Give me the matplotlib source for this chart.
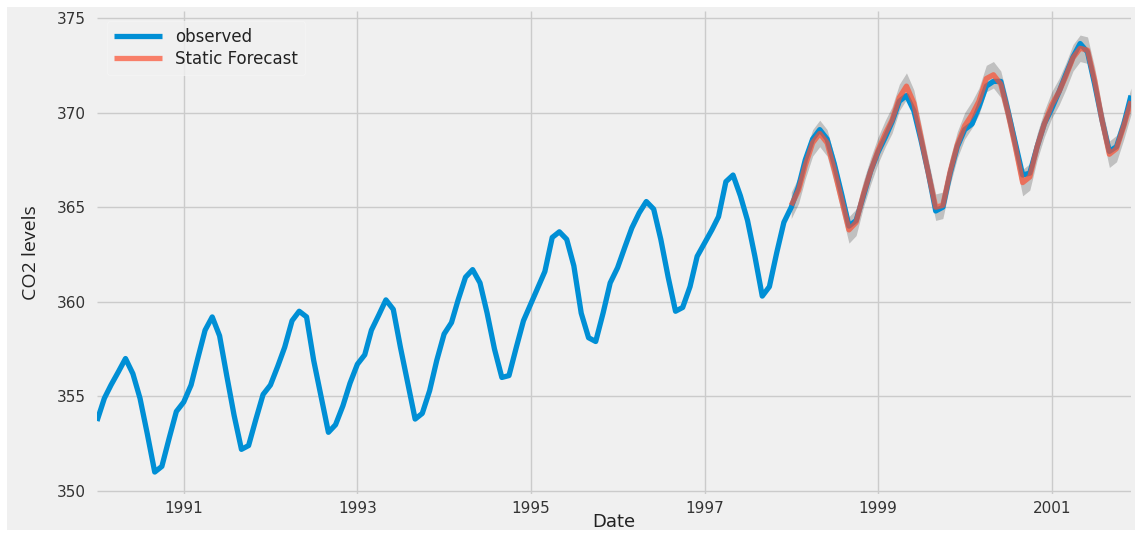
import matplotlib
matplotlib.use("Agg")
import matplotlib.pyplot as plt
import matplotlib.dates as mdates
from matplotlib.patches import Rectangle
import pandas as pd
import numpy as np

plt.style.use("fivethirtyeight")

# ---------------- data ----------------
start_month = "1990-01-01"
forecast_start = "1998-01-01"

observed = [
    # 1990
    353.7, 354.9, 355.6, 356.3, 357.0, 356.2, 354.9, 353.0, 351.0, 351.3, 352.8, 354.2,
    # 1991
    354.7, 355.6, 357.0, 358.5, 359.2, 358.2, 356.1, 354.0, 352.2, 352.4, 353.8, 355.1,
    # 1992
    355.6, 356.6, 357.6, 359.0, 359.5, 359.2, 356.9, 355.0, 353.1, 353.5, 354.5, 355.7,
    # 1993
    356.7, 357.2, 358.5, 359.3, 360.1, 359.6, 357.6, 355.7, 353.8, 354.1, 355.3, 356.9,
    # 1994
    358.3, 358.9, 360.1, 361.3, 361.7, 361.0, 359.4, 357.5, 356.0, 356.1, 357.6, 359.0,
    # 1995
    359.9, 360.8, 361.6, 363.4, 363.7, 363.3, 361.9, 359.4, 358.1, 357.9, 359.4, 361.0,
    # 1996
    361.8, 362.9, 363.9, 364.7, 365.3, 364.9, 363.3, 361.3, 359.5, 359.7, 360.8, 362.4,
    # 1997
    363.1, 363.8, 364.5, 366.35, 366.7, 365.6, 364.3, 362.4, 360.3, 360.8, 362.6, 364.2,
    # 1998
    365.0, 366.1, 367.5, 368.6, 369.1, 368.6, 367.3, 365.7, 364.0, 364.3, 365.6, 366.9,
    # 1999
    367.9, 368.7, 369.5, 370.6, 370.9, 370.1, 368.55, 366.8, 364.8, 365.0, 366.8, 368.2,
    # 2000
    369.1, 369.4, 370.3, 371.4, 371.65, 371.65, 370.1, 368.4, 366.7, 366.8, 368.2, 369.4,
    # 2001
    370.2, 371.1, 372.0, 372.95, 373.65, 373.2, 371.5, 369.6, 367.95, 368.2, 369.4, 370.9,
]

static_forecast = [
    # 1998
    365.1, 365.9, 367.2, 368.4, 368.9, 368.4, 367.0, 365.4, 363.8, 364.2, 365.7, 366.9,
    # 1999
    368.0, 368.9, 369.6, 370.8, 371.4, 370.5, 368.7, 366.8, 365.0, 365.1, 366.9, 368.3,
    # 2000
    369.3, 369.9, 370.6, 371.8, 372.0, 371.5, 370.0, 368.2, 366.3, 366.6, 368.2, 369.4,
    # 2001
    370.4, 371.1, 371.9, 372.9, 373.4, 373.3, 371.7, 369.6, 367.8, 368.1, 369.3, 370.6,
]

# half width of the confidence band
ci_half_width = 0.7

tick_years = [1991, 1993, 1995, 1997, 1999, 2001]
y_ticks = [350, 355, 360, 365, 370, 375]

# ---------------- figure ----------------
W, H, DPI = 1141, 533, 100
fig = plt.figure(figsize=(W / DPI, H / DPI), dpi=DPI, facecolor="white")
bg = "#f0f0f0"
fig.patches.append(Rectangle((7 / W, 1 - 530 / H), (1135 - 7) / W, (530 - 7) / H,
                             transform=fig.transFigure, facecolor=bg,
                             edgecolor="none", zorder=-10))

ax = fig.add_axes([97 / W, 1 - 493.8 / H, (1131 - 97) / W, (493.8 - 11.4) / H])
ax.set_facecolor(bg)

obs_index = pd.date_range(start_month, periods=len(observed), freq="MS")
fc_index = pd.date_range(forecast_start, periods=len(static_forecast), freq="MS")
fc = np.array(static_forecast)

ax.plot(obs_index, observed, color="#008fd5", lw=3.8, label="observed",
        solid_capstyle="butt")
ax.plot(fc_index, fc, color="#fc4f30", lw=3.8, alpha=0.7, label="Static Forecast")
ax.fill_between(fc_index, fc - ci_half_width, fc + ci_half_width, color="k",
                alpha=0.2, lw=0)

ax.set_xlim(obs_index[0], obs_index[-1])
ax.set_ylim(349.85, 375.35)

ax.set_xticks([pd.Timestamp(f"{y}-01-01") for y in tick_years])
ax.xaxis.set_major_formatter(mdates.DateFormatter("%Y"))
ax.set_yticks(y_ticks)

ax.grid(True, color="#cbcbcb", lw=1.0)
ax.tick_params(axis="both", length=0, labelsize=11, labelcolor="#333333")
ax.tick_params(axis="y", pad=8)
ax.tick_params(axis="x", pad=5)
for s in ax.spines.values():
    s.set_visible(False)

ax.set_xlabel("Date", fontsize=13, color="#222222", labelpad=-2)
ax.set_ylabel("CO2 levels", fontsize=14, color="#222222", labelpad=12,
              family=["Liberation Sans Narrow", "Open Sans", "DejaVu Sans"])

leg = ax.legend(loc="upper left", fontsize=12, handlelength=2.9,
                facecolor=bg, edgecolor="#f7f7f7", framealpha=0.8,
                borderaxespad=0.6, labelspacing=0.25)
for t in leg.get_texts():
    t.set_color("#222222")

fig.savefig("out.png", dpi=DPI, facecolor=fig.get_facecolor())
